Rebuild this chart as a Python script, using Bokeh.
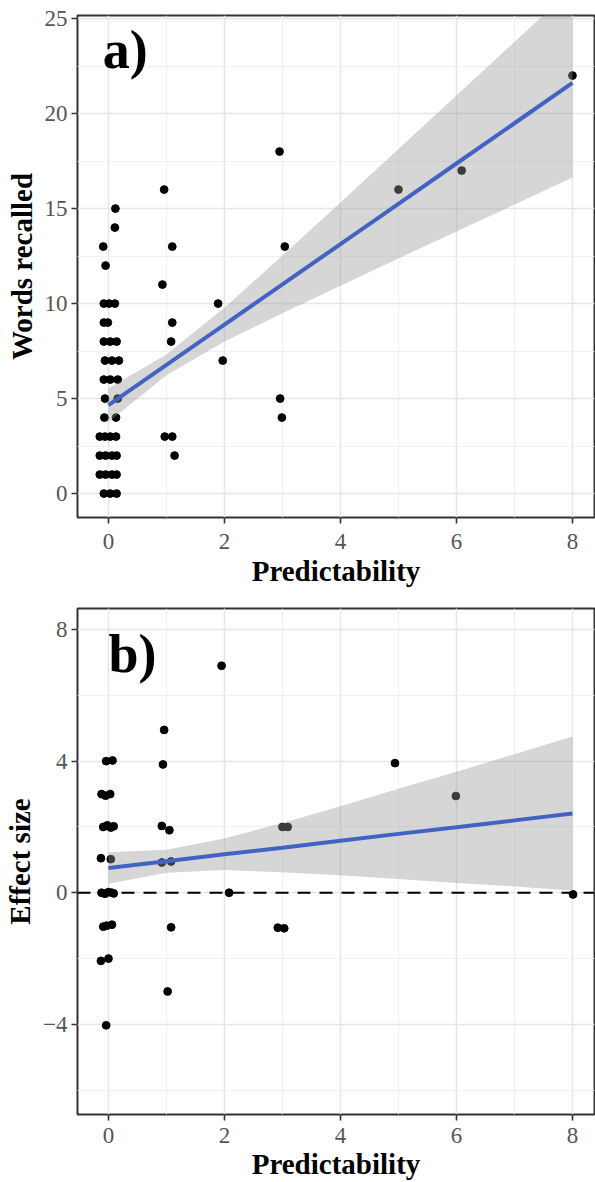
from bokeh.plotting import figure
from bokeh.models import Range1d, FixedTicker, Label, Span
from bokeh.layouts import column
from bokeh.embed import file_html
from bokeh.resources import INLINE

# ---------------- data: panel a (Words recalled) ----------------
a_x = [-0.08, 0.01, 0.11,
       -0.08, -0.01,
       -0.08, 0.03, 0.14,
       -0.06, 0.06, 0.18,
       -0.08, 0.03, 0.16,
       -0.06, 0.16,
       -0.07, 0.13,
       -0.15, -0.06, 0.03, 0.13,
       -0.15, -0.05, 0.06, 0.14,
       -0.15, -0.05, 0.06, 0.14,
       -0.08, 0.03, 0.14,
       0.12, 0.11, -0.09, -0.05,
       0.96, 1.10, 0.93, 1.10, 1.08, 0.97, 1.10, 1.14,
       1.89, 1.97, 2.95, 3.04, 2.96, 2.99,
       5.00, 6.09, 8.00]
a_y = [10, 10, 10,
       9, 9,
       8, 8, 8,
       7, 7, 7,
       6, 6, 6,
       5, 5,
       4, 4,
       3, 3, 3, 3,
       2, 2, 2, 2,
       1, 1, 1, 1,
       0, 0, 0,
       15, 14, 13, 12,
       16, 13, 11, 9, 8, 3, 3, 2,
       10, 7, 18, 13, 5, 4,
       16, 17, 22]

# ---------------- data: panel b (Effect size) ----------------
b_x = [-0.04, 0.07,
       -0.12, -0.05, 0.03,
       -0.09, -0.02, 0.04, 0.09,
       -0.13, 0.04,
       -0.12, -0.06, 0.00, 0.06, 0.09,
       -0.09, -0.03, 0.06,
       -0.13, 0.00,
       -0.04,
       0.96, 0.94, 0.92, 1.05, 0.92, 1.08, 1.08, 1.02,
       1.95, 2.08,
       2.92, 3.03, 3.00, 3.09,
       4.94, 5.99, 8.01]
b_y = [4.00, 4.02,
       3.00, 2.95, 3.00,
       2.00, 2.05, 1.98, 2.02,
       1.05, 1.02,
       0.00, -0.03, 0.02, 0.00, -0.02,
       -1.03, -1.00, -0.97,
       -2.07, -2.00,
       -4.03,
       4.95, 3.90, 2.03, 1.90, 0.92, 0.95, -1.05, -3.00,
       6.90, 0.00,
       -1.06, -1.08, 2.00, 2.00,
       3.94, 2.94, -0.05]

fit_x = [0, 1, 2, 3, 4, 5, 6, 7, 8]
a_fit = [4.65, 6.77, 8.89, 11.01, 13.13, 15.25, 17.37, 19.49, 21.61]
a_lo = [3.76, 6.22, 8.00, 9.49, 10.94, 12.37, 13.79, 15.21, 16.63]
a_hi = [5.54, 7.32, 9.78, 12.53, 15.32, 18.13, 20.95, 23.77, 26.59]
b_fit = [0.75, 0.96, 1.17, 1.37, 1.58, 1.79, 1.99, 2.20, 2.41]
b_lo = [0.27, 0.61, 0.69, 0.62, 0.53, 0.42, 0.30, 0.19, 0.07]
b_hi = [1.23, 1.31, 1.65, 2.12, 2.63, 3.16, 3.68, 4.21, 4.75]

x_major = [0, 2, 4, 6, 8]
x_minor = [1, 3, 5, 7]
a_y_major = [0, 5, 10, 15, 20, 25]
a_y_minor = [2.5, 7.5, 12.5, 17.5, 22.5]
b_y_major = [-4, 0, 4, 8]
b_y_minor = [-6, -2, 2, 6]

SERIF = "Liberation Serif"
TICK_TEXT = "#555555"
BLUE = "#4363C2"


def style(p, yticks, yminor):
    xt = FixedTicker(ticks=x_major, minor_ticks=x_minor)
    yt = FixedTicker(ticks=yticks, minor_ticks=yminor)
    p.xaxis.ticker = xt
    p.yaxis.ticker = yt
    p.xgrid.ticker = xt
    p.ygrid.ticker = yt
    for ax in (p.xaxis[0], p.yaxis[0]):
        ax.axis_line_color = None
        ax.major_tick_line_color = "#333333"
        ax.major_tick_line_width = 1.6
        ax.major_tick_out = 6
        ax.major_tick_in = 0
        ax.minor_tick_line_color = None
        ax.major_label_text_font = SERIF
        ax.major_label_text_font_size = "23px"
        ax.major_label_text_color = TICK_TEXT
        ax.axis_label_text_font = SERIF
        ax.axis_label_text_font_style = "bold"
        ax.axis_label_text_font_size = "29px"
        ax.axis_label_text_color = "black"
    p.yaxis.major_label_standoff = 4
    p.yaxis.axis_label_standoff = 4
    p.grid.grid_line_color = "#E6E6E6"
    p.grid.grid_line_width = 1.6
    p.grid.minor_grid_line_color = "#F0F0F0"
    p.grid.minor_grid_line_width = 1.0
    p.outline_line_color = "#333333"
    p.outline_line_width = 2
    p.outline_line_alpha = 1.0
    p.background_fill_color = "white"
    p.border_fill_color = "white"


# ---------------- panel a ----------------
pa = figure(width=595, height=592, x_range=Range1d(-0.534, 8.38),
            y_range=Range1d(-1.26, 25.16), output_backend="svg",
            toolbar_location=None, min_border_left=77, min_border_right=1,
            min_border_top=15, min_border_bottom=75)
style(pa, a_y_major, a_y_minor)
pa.xaxis.major_label_standoff = 10
pa.xaxis.axis_label_standoff = 3
pa.xaxis.axis_label = "Predictability"
pa.yaxis.axis_label = "Words recalled"
pa.scatter(a_x, a_y, size=7.8, color="black")
pa.varea(x=fit_x, y1=a_lo, y2=a_hi, fill_color="#999999", fill_alpha=0.4)
pa.line(fit_x, a_fit, line_color=BLUE, line_width=4)
pa.add_layout(Label(x=-0.10, y=23.32, text="a)", text_font=SERIF,
                    text_font_style="bold", text_font_size="54px",
                    text_baseline="alphabetic", text_align="left",
                    text_color="black"))

# ---------------- panel b ----------------
pb = figure(width=595, height=590, x_range=Range1d(-0.534, 8.38),
            y_range=Range1d(-6.74, 8.64), output_backend="svg",
            toolbar_location=None, min_border_left=77, min_border_right=1,
            min_border_top=16, min_border_bottom=65)
style(pb, b_y_major, b_y_minor)
pb.xaxis.major_label_standoff = 7
pb.xaxis.axis_label_standoff = 2
pb.xaxis.axis_label = "Predictability"
pb.yaxis.axis_label = "Effect size"
pb.yaxis.major_label_overrides = {-4: "\u22124"}
pb.scatter(b_x, b_y, size=7.8, color="black")
pb.varea(x=fit_x, y1=b_lo, y2=b_hi, fill_color="#999999", fill_alpha=0.4)
pb.line(fit_x, b_fit, line_color=BLUE, line_width=4)
pb.add_layout(Span(location=0, dimension="width", line_color="black",
                   line_width=2, line_dash="13 9"))
pb.add_layout(Label(x=0.0, y=7.25, text="b)", text_font=SERIF,
                    text_font_style="bold", text_font_size="54px",
                    text_baseline="alphabetic", text_align="left",
                    text_color="black"))

layout = column(pa, pb)
open("out.html", "w").write(file_html(layout, INLINE))
